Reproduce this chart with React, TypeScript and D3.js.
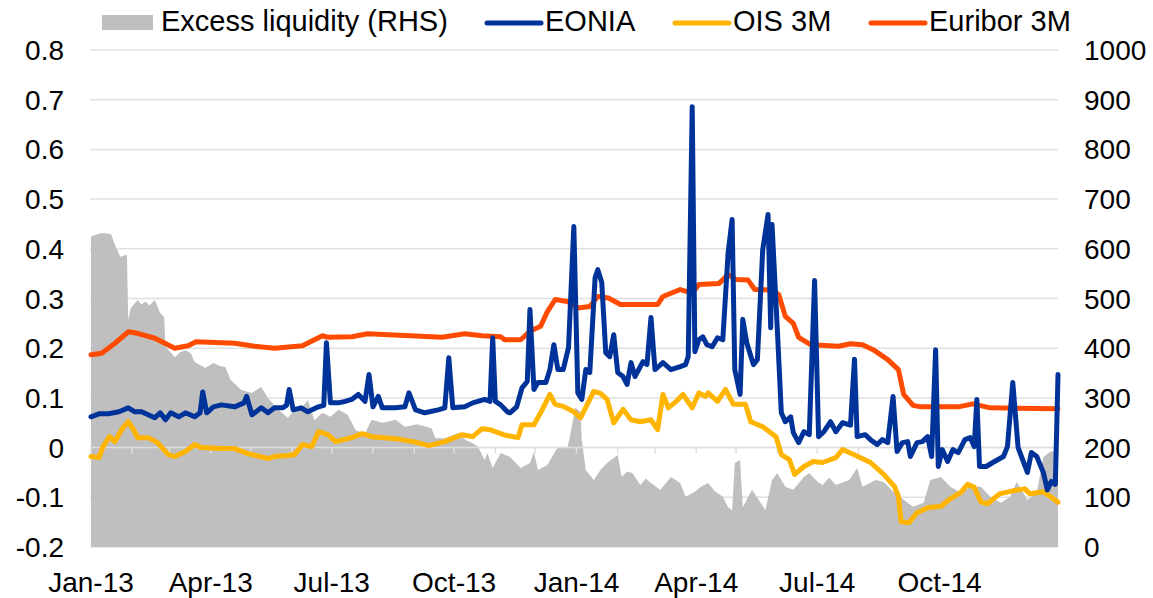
import * as d3 from "d3";

const W = 1153;
const H = 598;
const PLOT = { left: 91, right: 1058, top: 50, bottom: 547 };

// legend entries, in drawing order
const legendItems = [
  { label: "Excess liquidity (RHS)", kind: "area", color: "#bfbfbf", x: 102 },
  { label: "EONIA", kind: "line", color: "#003399", x: 485 },
  { label: "OIS 3M", kind: "line", color: "#ffb400", x: 673 },
  { label: "Euribor 3M", kind: "line", color: "#ff4b00", x: 869 },
];

// EUR bn, right axis
const excessLiquidity: [string, number][] = [
  ["2013-01-01", 624], ["2013-01-04", 628], ["2013-01-09", 632], ["2013-01-16", 630],
  ["2013-01-19", 608], ["2013-01-23", 584], ["2013-01-28", 588], ["2013-01-29", 457],
  ["2013-01-31", 481], ["2013-02-05", 497], ["2013-02-08", 488], ["2013-02-11", 494],
  ["2013-02-14", 486], ["2013-02-18", 497], ["2013-02-22", 471], ["2013-02-25", 463],
  ["2013-02-26", 403], ["2013-03-05", 382], ["2013-03-09", 392], ["2013-03-13", 396],
  ["2013-03-17", 390], ["2013-03-20", 372], ["2013-03-28", 360], ["2013-04-03", 370],
  ["2013-04-08", 364], ["2013-04-12", 362], ["2013-04-16", 336], ["2013-04-24", 316],
  ["2013-05-02", 310], ["2013-05-09", 322], ["2013-05-14", 300], ["2013-05-22", 276],
  ["2013-05-29", 260], ["2013-06-03", 276], ["2013-06-09", 282], ["2013-06-13", 296],
  ["2013-06-18", 255], ["2013-06-24", 270], ["2013-06-30", 262], ["2013-07-06", 276],
  ["2013-07-13", 266], ["2013-07-19", 235], ["2013-07-26", 229], ["2013-07-31", 256],
  ["2013-08-08", 250], ["2013-08-18", 256], ["2013-08-25", 242], ["2013-09-03", 247],
  ["2013-09-14", 239], ["2013-09-17", 219], ["2013-09-24", 219], ["2013-10-04", 229],
  ["2013-10-10", 215], ["2013-10-15", 209], ["2013-10-19", 201], ["2013-10-24", 175],
  ["2013-10-26", 189], ["2013-10-30", 159], ["2013-11-05", 189], ["2013-11-12", 181],
  ["2013-11-20", 159], ["2013-11-27", 169], ["2013-11-30", 191], ["2013-12-03", 155],
  ["2013-12-10", 165], ["2013-12-18", 201], ["2013-12-25", 199], ["2013-12-27", 221],
  ["2013-12-31", 280], ["2014-01-04", 272], ["2014-01-05", 215], ["2014-01-08", 155],
  ["2014-01-14", 135], ["2014-01-19", 155], ["2014-01-24", 169], ["2014-02-01", 185],
  ["2014-02-04", 141], ["2014-02-08", 152], ["2014-02-12", 149], ["2014-02-18", 125],
  ["2014-02-22", 138], ["2014-02-26", 129], ["2014-03-05", 115], ["2014-03-13", 141],
  ["2014-03-20", 129], ["2014-03-24", 101], ["2014-03-31", 111], ["2014-04-05", 122],
  ["2014-04-10", 129], ["2014-04-15", 112], ["2014-04-21", 101], ["2014-04-25", 80],
  ["2014-04-28", 74], ["2014-04-30", 169], ["2014-05-04", 175], ["2014-05-06", 80],
  ["2014-05-13", 115], ["2014-05-18", 95], ["2014-05-23", 74], ["2014-05-28", 135],
  ["2014-06-01", 149], ["2014-06-07", 121], ["2014-06-13", 115], ["2014-06-21", 141],
  ["2014-06-25", 149], ["2014-07-01", 132], ["2014-07-05", 125], ["2014-07-10", 140],
  ["2014-07-15", 125], ["2014-07-25", 135], ["2014-07-31", 159], ["2014-08-04", 121],
  ["2014-08-14", 135], ["2014-08-20", 131], ["2014-08-28", 109], ["2014-09-04", 95],
  ["2014-09-11", 81], ["2014-09-19", 89], ["2014-09-24", 135], ["2014-10-02", 141],
  ["2014-10-09", 121], ["2014-10-17", 109], ["2014-10-24", 121], ["2014-11-01", 121],
  ["2014-11-08", 101], ["2014-11-16", 89], ["2014-11-23", 101], ["2014-11-28", 131],
  ["2014-12-06", 95], ["2014-12-13", 109], ["2014-12-18", 181], ["2014-12-23", 191],
  ["2014-12-29", 195],
];

// %, left axis
const eonia: [string, number][] = [
  ["2013-01-01", 0.062], ["2013-01-07", 0.068], ["2013-01-14", 0.068], ["2013-01-22", 0.072],
  ["2013-01-29", 0.08], ["2013-02-03", 0.072], ["2013-02-08", 0.072], ["2013-02-13", 0.066],
  ["2013-02-18", 0.06], ["2013-02-22", 0.07], ["2013-02-26", 0.056], ["2013-03-02", 0.07],
  ["2013-03-08", 0.062], ["2013-03-13", 0.07], ["2013-03-20", 0.062], ["2013-03-24", 0.07],
  ["2013-03-26", 0.112], ["2013-03-29", 0.07], ["2013-04-03", 0.082], ["2013-04-09", 0.086],
  ["2013-04-19", 0.082], ["2013-04-26", 0.09], ["2013-04-28", 0.103], ["2013-05-02", 0.066],
  ["2013-05-09", 0.08], ["2013-05-14", 0.07], ["2013-05-19", 0.08], ["2013-05-25", 0.08],
  ["2013-05-28", 0.085], ["2013-05-30", 0.117], ["2013-06-02", 0.076], ["2013-06-08", 0.08],
  ["2013-06-13", 0.072], ["2013-06-21", 0.082], ["2013-06-25", 0.085], ["2013-06-27", 0.211],
  ["2013-06-30", 0.09], ["2013-07-06", 0.09], ["2013-07-11", 0.093], ["2013-07-16", 0.097],
  ["2013-07-21", 0.107], ["2013-07-26", 0.093], ["2013-07-29", 0.147], ["2013-08-01", 0.082],
  ["2013-08-05", 0.103], ["2013-08-08", 0.08], ["2013-08-18", 0.08], ["2013-08-25", 0.082],
  ["2013-08-28", 0.11], ["2013-09-02", 0.076], ["2013-09-09", 0.07], ["2013-09-19", 0.076],
  ["2013-09-24", 0.08], ["2013-09-27", 0.181], ["2013-09-30", 0.08], ["2013-10-09", 0.082],
  ["2013-10-15", 0.09], ["2013-10-24", 0.097], ["2013-10-28", 0.093], ["2013-10-30", 0.221],
  ["2013-11-01", 0.093], ["2013-11-05", 0.086], ["2013-11-10", 0.072], ["2013-11-12", 0.07],
  ["2013-11-17", 0.082], ["2013-11-21", 0.12], ["2013-11-25", 0.133], ["2013-11-27", 0.278],
  ["2013-11-30", 0.117], ["2013-12-03", 0.131], ["2013-12-09", 0.131], ["2013-12-12", 0.157],
  ["2013-12-15", 0.207], ["2013-12-18", 0.157], ["2013-12-22", 0.157], ["2013-12-26", 0.201],
  ["2013-12-30", 0.445], ["2014-01-02", 0.11], ["2014-01-05", 0.097], ["2014-01-08", 0.157],
  ["2014-01-11", 0.151], ["2014-01-15", 0.342], ["2014-01-17", 0.358], ["2014-01-20", 0.332],
  ["2014-01-23", 0.191], ["2014-01-26", 0.183], ["2014-01-29", 0.227], ["2014-02-01", 0.151],
  ["2014-02-05", 0.143], ["2014-02-08", 0.127], ["2014-02-11", 0.171], ["2014-02-14", 0.143],
  ["2014-02-20", 0.173], ["2014-02-23", 0.167], ["2014-02-26", 0.262], ["2014-03-01", 0.157],
  ["2014-03-07", 0.171], ["2014-03-13", 0.157], ["2014-03-20", 0.163], ["2014-03-24", 0.167],
  ["2014-03-26", 0.183], ["2014-03-29", 0.686], ["2014-03-31", 0.193], ["2014-04-03", 0.217],
  ["2014-04-06", 0.223], ["2014-04-09", 0.207], ["2014-04-13", 0.203], ["2014-04-17", 0.221],
  ["2014-04-21", 0.217], ["2014-04-25", 0.392], ["2014-04-28", 0.459], ["2014-04-30", 0.157],
  ["2014-05-04", 0.107], ["2014-05-06", 0.258], ["2014-05-09", 0.211], ["2014-05-14", 0.167],
  ["2014-05-17", 0.177], ["2014-05-21", 0.398], ["2014-05-25", 0.469], ["2014-05-27", 0.241],
  ["2014-05-28", 0.449], ["2014-06-01", 0.237], ["2014-06-04", 0.07], ["2014-06-07", 0.052],
  ["2014-06-11", 0.062], ["2014-06-13", 0.03], ["2014-06-17", 0.01], ["2014-06-21", 0.032],
  ["2014-06-25", 0.026], ["2014-06-29", 0.336], ["2014-07-02", 0.022], ["2014-07-06", 0.032],
  ["2014-07-11", 0.052], ["2014-07-15", 0.032], ["2014-07-20", 0.05], ["2014-07-26", 0.045],
  ["2014-07-29", 0.178], ["2014-07-31", 0.022], ["2014-08-06", 0.026], ["2014-08-10", 0.016],
  ["2014-08-15", 0.006], ["2014-08-19", 0.016], ["2014-08-23", 0.01], ["2014-08-27", 0.103],
  ["2014-08-30", -0.008], ["2014-09-03", 0.01], ["2014-09-07", 0.012], ["2014-09-09", -0.018],
  ["2014-09-14", 0.01], ["2014-09-18", 0.012], ["2014-09-22", 0.022], ["2014-09-25", -0.018],
  ["2014-09-28", 0.197], ["2014-09-30", -0.038], ["2014-10-03", -0.004], ["2014-10-07", -0.028],
  ["2014-10-11", -0.004], ["2014-10-15", -0.01], ["2014-10-20", 0.016], ["2014-10-24", 0.02],
  ["2014-10-27", 0.002], ["2014-10-29", 0.097], ["2014-10-31", -0.038], ["2014-11-05", -0.038],
  ["2014-11-10", -0.03], ["2014-11-18", -0.018], ["2014-11-21", 0.002], ["2014-11-25", 0.131],
  ["2014-11-29", 0.0], ["2014-12-06", -0.05], ["2014-12-09", -0.01], ["2014-12-13", -0.018],
  ["2014-12-18", -0.05], ["2014-12-21", -0.085], ["2014-12-24", -0.068], ["2014-12-27", -0.074],
  ["2014-12-29", 0.147],
];

const ois3m: [string, number][] = [
  ["2013-01-01", -0.018], ["2013-01-07", -0.02], ["2013-01-10", 0.002], ["2013-01-15", 0.022],
  ["2013-01-19", 0.012], ["2013-01-24", 0.036], ["2013-01-29", 0.052], ["2013-02-02", 0.036],
  ["2013-02-05", 0.02], ["2013-02-13", 0.02], ["2013-02-20", 0.01], ["2013-02-28", -0.014],
  ["2013-03-05", -0.018], ["2013-03-13", -0.008], ["2013-03-20", 0.006], ["2013-03-25", 0.0],
  ["2013-04-09", -0.002], ["2013-04-19", -0.002], ["2013-04-29", -0.012], ["2013-05-14", -0.022],
  ["2013-05-19", -0.018], ["2013-05-29", -0.016], ["2013-06-03", -0.014], ["2013-06-09", 0.006],
  ["2013-06-16", 0.002], ["2013-06-21", 0.032], ["2013-06-28", 0.026], ["2013-07-04", 0.012],
  ["2013-07-16", 0.02], ["2013-07-24", 0.028], ["2013-07-31", 0.022], ["2013-08-18", 0.018],
  ["2013-08-31", 0.012], ["2013-09-12", 0.004], ["2013-09-24", 0.012], ["2013-10-07", 0.026],
  ["2013-10-15", 0.022], ["2013-10-22", 0.038], ["2013-10-28", 0.036], ["2013-11-07", 0.026],
  ["2013-11-18", 0.02], ["2013-11-21", 0.046], ["2013-11-30", 0.046], ["2013-12-05", 0.07],
  ["2013-12-12", 0.107], ["2013-12-16", 0.087], ["2013-12-22", 0.083], ["2013-12-30", 0.072],
  ["2014-01-04", 0.06], ["2014-01-14", 0.113], ["2014-01-19", 0.109], ["2014-01-24", 0.097],
  ["2014-01-29", 0.05], ["2014-02-05", 0.077], ["2014-02-11", 0.056], ["2014-02-18", 0.052],
  ["2014-02-26", 0.056], ["2014-03-03", 0.036], ["2014-03-07", 0.107], ["2014-03-11", 0.08],
  ["2014-03-17", 0.093], ["2014-03-22", 0.107], ["2014-03-29", 0.08], ["2014-04-03", 0.11],
  ["2014-04-08", 0.103], ["2014-04-10", 0.11], ["2014-04-17", 0.093], ["2014-04-23", 0.117],
  ["2014-04-29", 0.087], ["2014-05-08", 0.087], ["2014-05-12", 0.052], ["2014-05-21", 0.042],
  ["2014-05-31", 0.022], ["2014-06-04", -0.014], ["2014-06-10", -0.024], ["2014-06-14", -0.054],
  ["2014-06-21", -0.038], ["2014-06-28", -0.028], ["2014-07-05", -0.03], ["2014-07-15", -0.02],
  ["2014-07-20", -0.004], ["2014-07-30", -0.016], ["2014-08-10", -0.03], ["2014-08-20", -0.054],
  ["2014-08-28", -0.078], ["2014-08-31", -0.098], ["2014-09-02", -0.149], ["2014-09-08", -0.151],
  ["2014-09-14", -0.131], ["2014-09-22", -0.121], ["2014-10-02", -0.118], ["2014-10-09", -0.103],
  ["2014-10-17", -0.09], ["2014-10-22", -0.074], ["2014-10-27", -0.08], ["2014-11-01", -0.109],
  ["2014-11-06", -0.113], ["2014-11-15", -0.093], ["2014-11-25", -0.087], ["2014-12-04", -0.083],
  ["2014-12-08", -0.093], ["2014-12-18", -0.089], ["2014-12-24", -0.1], ["2014-12-29", -0.11],
];

const euribor3m: [string, number][] = [
  ["2013-01-01", 0.187], ["2013-01-09", 0.19], ["2013-01-19", 0.21], ["2013-01-29", 0.233],
  ["2013-02-05", 0.23], ["2013-02-18", 0.22], ["2013-03-05", 0.2], ["2013-03-15", 0.205],
  ["2013-03-21", 0.213], ["2013-04-19", 0.21], ["2013-05-04", 0.204], ["2013-05-19", 0.2],
  ["2013-06-09", 0.205], ["2013-06-24", 0.225], ["2013-06-28", 0.222], ["2013-07-16", 0.223],
  ["2013-07-28", 0.229], ["2013-08-29", 0.225], ["2013-09-22", 0.222], ["2013-10-09", 0.229],
  ["2013-10-22", 0.225], ["2013-11-05", 0.223], ["2013-11-08", 0.217], ["2013-11-20", 0.217],
  ["2013-11-27", 0.234], ["2013-12-05", 0.244], ["2013-12-10", 0.273], ["2013-12-16", 0.298],
  ["2013-12-25", 0.294], ["2014-01-02", 0.281], ["2014-01-11", 0.284], ["2014-01-17", 0.304],
  ["2014-01-25", 0.301], ["2014-02-03", 0.288], ["2014-03-03", 0.288], ["2014-03-07", 0.304],
  ["2014-03-20", 0.318], ["2014-03-29", 0.311], ["2014-04-03", 0.328], ["2014-04-18", 0.33],
  ["2014-04-25", 0.348], ["2014-05-01", 0.338], ["2014-05-10", 0.337], ["2014-05-15", 0.318],
  ["2014-05-28", 0.317], ["2014-06-02", 0.308], ["2014-06-07", 0.264], ["2014-06-13", 0.25],
  ["2014-06-17", 0.222], ["2014-06-26", 0.207], ["2014-07-17", 0.204], ["2014-07-26", 0.209],
  ["2014-08-04", 0.207], ["2014-08-12", 0.197], ["2014-08-23", 0.177], ["2014-08-31", 0.157],
  ["2014-09-04", 0.107], ["2014-09-11", 0.085], ["2014-09-17", 0.082], ["2014-10-15", 0.082],
  ["2014-10-26", 0.088], ["2014-11-08", 0.08], ["2014-12-29", 0.078],
];

const leftTicks = [-0.2, -0.1, 0, 0.1, 0.2, 0.3, 0.4, 0.5, 0.6, 0.7, 0.8];
const rightTicks = [0, 100, 200, 300, 400, 500, 600, 700, 800, 900, 1000];

const parse = d3.timeParse("%Y-%m-%d");
const toPoints = (rows: [string, number][]) => rows.map(([d, v]) => ({ date: parse(d) as Date, v }));

export default function App() {
  const liq = toPoints(excessLiquidity);
  const lines = [
    { pts: toPoints(ois3m), color: "#ffb400" },
    { pts: toPoints(euribor3m), color: "#ff4b00" },
    { pts: toPoints(eonia), color: "#003399" },
  ];

  const x = d3
    .scaleTime()
    .domain([parse("2013-01-01") as Date, parse("2014-12-29") as Date])
    .range([PLOT.left, PLOT.right]);
  const yL = d3.scaleLinear().domain([-0.2, 0.8]).range([PLOT.bottom, PLOT.top]);
  const yR = d3.scaleLinear().domain([0, 1000]).range([PLOT.bottom, PLOT.top]);

  const area = d3
    .area<{ date: Date; v: number }>()
    .x((d) => x(d.date))
    .y0(yR(0))
    .y1((d) => yR(d.v));
  const line = d3
    .line<{ date: Date; v: number }>()
    .x((d) => x(d.date))
    .y((d) => yL(d.v));

  const months = d3.timeMonth.range(parse("2013-01-01") as Date, parse("2014-12-30") as Date);
  const quarters = d3.timeMonth.every(3)!.range(parse("2013-01-01") as Date, parse("2014-12-30") as Date);
  const fmtQ = d3.timeFormat("%b-%y");
  const fmtL = (d: number) => String(Math.round(d * 10) / 10);

  const font = "'Liberation Sans', Arial, sans-serif";

  return (
    <div style={{ position: "absolute", left: 0, top: 0 }}>
      <svg width={W} height={H} style={{ display: "block", background: "#fff" }} fontFamily={font}>
        {/* gridlines */}
        {leftTicks.map((t) => (
          <line key={t} x1={PLOT.left - 1} x2={PLOT.right} y1={yL(t)} y2={yL(t)} stroke="#e0e0e0" strokeWidth={1.5} />
        ))}

        <path d={area(liq) ?? ""} fill="#bfbfbf" />

        {/* zero axis with monthly ticks */}
        <line x1={PLOT.left} x2={PLOT.right} y1={yL(0)} y2={yL(0)} stroke="#dedede" strokeWidth={1.5} />
        {months.map((m) => (
          <line key={+m} x1={x(m)} x2={x(m)} y1={yL(0)} y2={yL(0) + 6} stroke="#dedede" strokeWidth={1.5} />
        ))}

        {lines.map((l, i) => (
          <path
            key={i}
            d={line(l.pts) ?? ""}
            fill="none"
            stroke={l.color}
            strokeWidth={5}
            strokeLinejoin="round"
            strokeLinecap="round"
          />
        ))}

        {/* left axis labels */}
        {leftTicks.map((t) => (
          <text key={t} x={64} y={yL(t) + 10} textAnchor="end" fontSize={28} fill="#000">
            {fmtL(t)}
          </text>
        ))}
        {/* right axis labels */}
        {rightTicks.map((t) => (
          <text key={t} x={1084} y={yR(t) + 10} textAnchor="start" fontSize={28} fill="#000">
            {t}
          </text>
        ))}
        {/* x labels */}
        {quarters.map((q) => (
          <text key={+q} x={x(q)} y={592} textAnchor="middle" fontSize={28} fill="#000">
            {fmtQ(q)}
          </text>
        ))}

        {/* legend */}
        {legendItems.map((it) => (
          <g key={it.label}>
            {it.kind === "area" ? (
              <rect x={it.x} y={15} width={51} height={15} fill={it.color} />
            ) : (
              <line x1={it.x + 2} x2={it.x + 56} y1={23} y2={23} stroke={it.color} strokeWidth={5} strokeLinecap="round" />
            )}
            <text x={it.x + (it.kind === "area" ? 59 : 60)} y={31} fontSize={29} fill="#000">
              {it.label}
            </text>
          </g>
        ))}
      </svg>
    </div>
  );
}
